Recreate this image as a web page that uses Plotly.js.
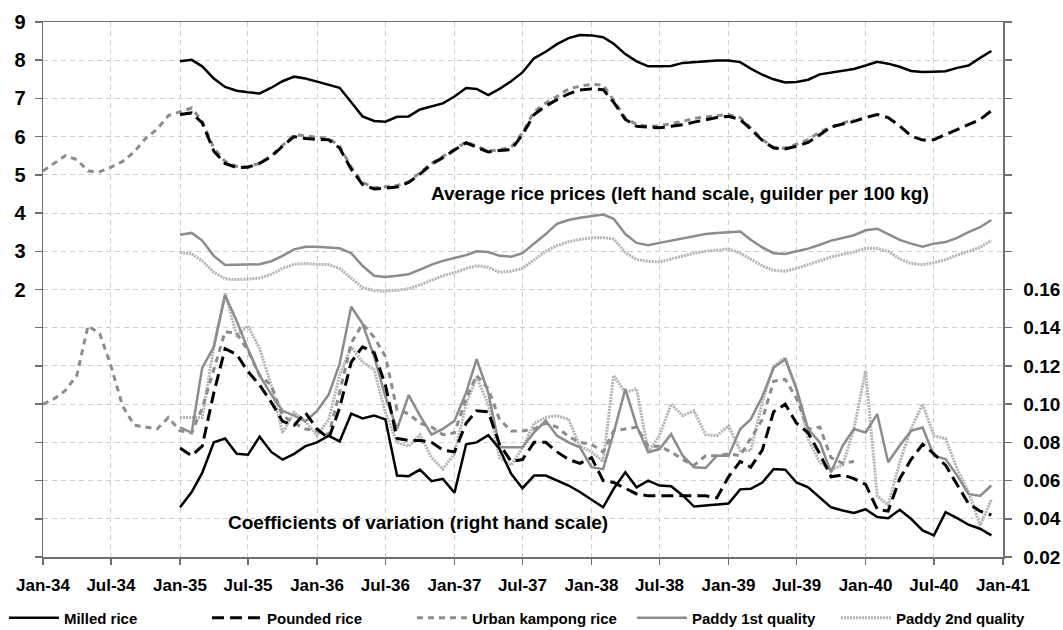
<!DOCTYPE html>
<html><head><meta charset="utf-8">
<script src="https://cdn.plot.ly/plotly-3.0.1.min.js"></script>
<style>html,body{margin:0;padding:0;background:#fff}#chart{width:1063px;height:630px}</style>
</head><body><div id="chart"></div><script>
// ---- categories ----
function monthList(y, m, n){const out=[];for(let i=0;i<n;i++){const mm=m-1+i;const yy=y+Math.floor(mm/12);const mo=mm%12+1;out.push(yy+'-'+String(mo).padStart(2,'0')+'-01');}return out;}
const months34 = monthList(1934,1,72); // Jan-34 .. Dec-39
const months35 = monthList(1935,1,72); // Jan-35 .. Dec-40
const seriesNames = ['Milled rice','Pounded rice','Urban kampong rice','Paddy 1st quality','Paddy 2nd quality'];

// ---- average prices (guilder per 100 kg, left scale) ----
const milledPrice = [7.97,8.01,7.84,7.52,7.30,7.20,7.16,7.13,7.28,7.45,7.57,7.52,
 7.44,7.35,7.28,6.90,6.53,6.41,6.39,6.52,6.53,6.71,6.80,6.87,
 7.05,7.27,7.25,7.09,7.25,7.45,7.68,8.05,8.22,8.42,8.58,8.66,
 8.65,8.60,8.43,8.16,7.97,7.84,7.84,7.85,7.93,7.95,7.97,7.99,
 7.99,7.95,7.78,7.62,7.50,7.42,7.43,7.49,7.63,7.67,7.72,7.77,
 7.86,7.96,7.91,7.83,7.72,7.69,7.70,7.71,7.80,7.86,8.06,8.24];
const poundedPrice = [6.58,6.62,6.36,5.62,5.30,5.19,5.20,5.30,5.48,5.75,6.00,5.95,
 5.93,5.92,5.70,5.15,4.75,4.63,4.65,4.68,4.80,5.02,5.28,5.45,
 5.65,5.84,5.72,5.60,5.64,5.66,6.05,6.58,6.80,6.97,7.12,7.22,
 7.25,7.23,6.90,6.45,6.27,6.25,6.23,6.27,6.31,6.38,6.45,6.50,
 6.53,6.45,6.20,5.90,5.70,5.68,5.75,5.85,6.05,6.25,6.33,6.40,
 6.50,6.58,6.50,6.28,6.02,5.91,5.92,6.05,6.18,6.30,6.45,6.68];
const urbanPrice = [5.10,5.30,5.50,5.40,5.10,5.08,5.20,5.35,5.60,5.95,6.20,6.55,
 6.65,6.75,6.40,5.70,5.35,5.22,5.22,5.30,5.50,5.78,6.05,6.02,
 5.98,5.96,5.75,5.20,4.80,4.66,4.68,4.72,4.82,5.05,5.30,5.48,
 5.68,5.86,5.75,5.62,5.66,5.72,6.10,6.65,6.88,7.05,7.25,7.32,
 7.37,7.35,6.95,6.48,6.32,6.27,6.28,6.33,6.40,6.48,6.52,6.55,
 6.58,6.50,6.22,5.92,5.72,5.70,5.80,5.92,6.12,6.25,6.35,6.45];
const paddy1Price = [3.43,3.48,3.28,2.88,2.64,2.65,2.64,2.66,2.74,2.88,3.05,3.12,
 3.12,3.10,3.08,2.95,2.62,2.36,2.33,2.36,2.40,2.52,2.65,2.75,
 2.82,2.90,3.00,2.98,2.88,2.86,2.95,3.20,3.45,3.72,3.82,3.88,
 3.92,3.96,3.85,3.45,3.22,3.16,3.22,3.28,3.33,3.40,3.45,3.48,
 3.50,3.52,3.30,3.10,2.95,2.93,3.00,3.07,3.17,3.28,3.35,3.42,
 3.55,3.59,3.45,3.30,3.20,3.12,3.20,3.24,3.35,3.50,3.63,3.82];
const paddy2Price = [2.97,2.93,2.75,2.45,2.28,2.26,2.27,2.30,2.40,2.55,2.66,2.68,
 2.66,2.65,2.55,2.30,2.05,1.97,1.96,1.98,2.02,2.12,2.24,2.36,
 2.44,2.55,2.62,2.58,2.45,2.48,2.55,2.78,3.00,3.15,3.25,3.31,
 3.35,3.36,3.32,2.97,2.78,2.74,2.72,2.80,2.88,2.95,3.00,3.03,
 3.06,2.95,2.80,2.62,2.50,2.48,2.55,2.65,2.75,2.85,2.92,2.98,
 3.08,3.07,3.00,2.80,2.68,2.65,2.70,2.78,2.90,3.00,3.10,3.28];

// ---- coefficients of variation (right scale) ----
const milledCV = [0.046,0.054,0.064,0.080,0.082,0.074,0.0735,0.083,0.075,0.071,0.074,0.078,
 0.080,0.0835,0.0805,0.095,0.0925,0.094,0.092,0.0626,0.0623,0.0657,0.0597,0.0609,
 0.0536,0.079,0.080,0.0838,0.0765,0.0635,0.056,0.0626,0.0626,0.060,0.0574,0.054,
 0.050,0.046,0.0557,0.0643,0.0565,0.060,0.0574,0.057,0.0522,0.0464,0.047,0.0473,
 0.048,0.0554,0.0557,0.059,0.066,0.0657,0.059,0.0565,0.0513,0.046,0.0443,0.043,
 0.045,0.0409,0.0403,0.0447,0.040,0.0339,0.0313,0.0435,0.0403,0.0369,0.0348,0.0313];
const poundedCV = [0.077,0.073,0.078,0.106,0.129,0.126,0.117,0.110,0.101,0.091,0.089,0.0955,
 0.087,0.082,0.098,0.122,0.130,0.127,0.110,0.082,0.081,0.081,0.080,0.076,
 0.075,0.090,0.0965,0.096,0.079,0.070,0.071,0.080,0.080,0.075,0.071,0.069,
 0.072,0.060,0.059,0.056,0.053,0.052,0.052,0.052,0.052,0.052,0.052,0.051,
 0.062,0.070,0.067,0.076,0.096,0.100,0.090,0.085,0.074,0.062,0.063,0.061,
 0.058,0.045,0.044,0.061,0.071,0.079,0.074,0.068,0.058,0.048,0.044,0.042];
const urbanCV = [0.100,0.103,0.107,0.115,0.141,0.137,0.120,0.099,0.089,0.088,0.087,0.093,
 0.086,0.085,0.098,0.118,0.138,0.137,0.128,0.115,0.110,0.094,0.090,0.087,
 0.086,0.084,0.106,0.132,0.142,0.135,0.125,0.097,0.095,0.090,0.088,0.084,
 0.085,0.103,0.115,0.108,0.092,0.086,0.086,0.087,0.090,0.088,0.083,0.080,
 0.079,0.075,0.086,0.087,0.088,0.078,0.078,0.075,0.071,0.068,0.073,0.073,
 0.074,0.073,0.082,0.092,0.112,0.113,0.103,0.087,0.088,0.072,0.069,0.070];
const paddy1CV = [0.0878,0.085,0.119,0.130,0.157,0.1435,0.1287,0.115,0.105,0.0965,0.094,0.091,
 0.0965,0.105,0.121,0.151,0.142,0.125,0.104,0.087,0.1047,0.094,0.084,0.087,
 0.0913,0.106,0.1235,0.106,0.0774,0.0774,0.0774,0.0852,0.0913,0.0835,0.080,0.0774,
 0.067,0.066,0.085,0.108,0.0887,0.0748,0.0765,0.0843,0.073,0.067,0.0666,0.073,
 0.073,0.087,0.092,0.104,0.119,0.1235,0.108,0.087,0.080,0.0643,0.0783,0.087,
 0.0852,0.0948,0.0696,0.0783,0.086,0.0878,0.073,0.0713,0.0626,0.053,0.052,0.0574];
const paddy2CV = [0.093,0.093,0.093,0.130,0.158,0.136,0.141,0.129,0.110,0.085,0.0957,0.091,
 0.0835,0.092,0.115,0.130,0.122,0.118,0.0957,0.080,0.078,0.084,0.072,0.066,
 0.074,0.100,0.114,0.100,0.072,0.068,0.077,0.090,0.093,0.094,0.092,0.078,
 0.075,0.070,0.115,0.106,0.108,0.075,0.0835,0.100,0.094,0.0965,0.084,0.0835,
 0.0887,0.0757,0.0757,0.101,0.120,0.1243,0.108,0.0817,0.0696,0.066,0.068,0.087,
 0.1174,0.052,0.047,0.0696,0.087,0.100,0.0835,0.082,0.066,0.054,0.0365,0.050];

// ---- tick labels ----
const leftTickVals = [-5,-4,-3,-2,-1,0,1,2,3,4,5,6,7,8,9];
const leftTickText = leftTickVals.map(v => v >= 2 ? String(v) : '');
const rightTickVals = [0.02,0.04,0.06,0.08,0.10,0.12,0.14,0.16,0.18,0.20,0.22,0.24,0.26,0.28,0.30];
const rightTickText = rightTickVals.map(v => v <= 0.161 ? v.toFixed(2) : '');
const annPrices = 'Average rice prices (left hand scale, guilder per 100 kg)';
const annCV = 'Coefficients of variation (right hand scale)';

// ---- styles ----
const styles = {
  'Milled rice':        {color:'#000000', width:2.5, dash:'solid',    legend:'legend',  lx:-0.0407},
  'Pounded rice':       {color:'#000000', width:3,   dash:'12px,6px', legend:'legend2', lx:0.1708},
  'Urban kampong rice': {color:'#8c8c8c', width:3,   dash:'6px,5px',  legend:'legend3', lx:0.3843},
  'Paddy 1st quality':  {color:'#8c8c8c', width:2.5, dash:'solid',    legend:'legend4', lx:0.6135},
  'Paddy 2nd quality':  {color:'#b4b4b4', width:3,   dash:'2px,1px',  legend:'legend5', lx:0.8260}
};
const priceData = {
  'Milled rice':[months35, milledPrice], 'Pounded rice':[months35, poundedPrice],
  'Urban kampong rice':[months34, urbanPrice], 'Paddy 1st quality':[months35, paddy1Price],
  'Paddy 2nd quality':[months35, paddy2Price]};
const cvData = {
  'Milled rice':[months35, milledCV], 'Pounded rice':[months35, poundedCV],
  'Urban kampong rice':[months34, urbanCV], 'Paddy 1st quality':[months35, paddy1CV],
  'Paddy 2nd quality':[months35, paddy2CV]};

const drawOrder = ['Paddy 2nd quality','Paddy 1st quality','Urban kampong rice','Pounded rice','Milled rice'];
const traces = [];
drawOrder.forEach(n => {
  const s = styles[n];
  const line = {color:s.color, width:s.width, dash:s.dash};
  traces.push({x:priceData[n][0], y:priceData[n][1], type:'scatter', mode:'lines', name:n,
    line:line, legendgroup:n, legend:s.legend, showlegend:true, yaxis:'y'});
  traces.push({x:cvData[n][0], y:cvData[n][1], type:'scatter', mode:'lines', name:n,
    line:line, legendgroup:n, showlegend:false, yaxis:'y2'});
});

const FONT = 'Liberation Sans, Arial, sans-serif';
const axisLine = '#707070';
const legendFont = {family:FONT, size:15, weight:'bold', color:'#000'};
const layout = {
  width:1063, height:630,
  margin:{l:43, r:60, t:22, b:73, autoexpand:false},
  paper_bgcolor:'#ffffff', plot_bgcolor:'#ffffff',
  font:{family:FONT, color:'#000'},
  xaxis:{type:'date', range:['1934-01-01','1941-01-01'], tick0:'1934-01-01', dtick:'M6',
    tickformat:'%b-%y', ticks:'outside', ticklen:6, tickcolor:axisLine, tickwidth:1.5, ticklabelstandoff:6,
    showline:true, linecolor:axisLine, linewidth:1.5, mirror:true,
    showgrid:true, gridcolor:'#cfcfcf', gridwidth:1, griddash:'5px,4px', zeroline:false,
    tickfont:{family:FONT, size:17, weight:'bold', color:'#000'}},
  yaxis:{range:[-5,9], tickvals:leftTickVals, ticktext:leftTickText, ticks:'outside', ticklen:7,
    tickcolor:axisLine, tickwidth:1.5, ticklabelstandoff:5, showline:true, linecolor:axisLine, linewidth:1.5,
    showgrid:true, gridcolor:'#cfcfcf', gridwidth:1, griddash:'5px,4px', zeroline:false,
    tickfont:{family:FONT, size:20, weight:'bold', color:'#000'}},
  yaxis2:{range:[0.02,0.30], overlaying:'y', side:'right', tickvals:rightTickVals, ticktext:rightTickText,
    ticks:'outside', ticklen:7, tickcolor:axisLine, tickwidth:1.5, ticklabelstandoff:8,
    showline:true, linecolor:axisLine, linewidth:1.5, showgrid:false, zeroline:false,
    tickfont:{family:FONT, size:19, weight:'bold', color:'#000'}},
  showlegend:true,
  annotations:[
    {text:annPrices, xref:'paper', yref:'paper', x:0.6635, y:0.680, xanchor:'center', yanchor:'middle',
     showarrow:false, font:{family:FONT, size:19, weight:'bold', color:'#000'}},
    {text:annCV, xref:'paper', yref:'paper', x:0.391, y:0.0654, xanchor:'center', yanchor:'middle',
     showarrow:false, font:{family:FONT, size:19, weight:'bold', color:'#000'}}
  ]
};
seriesNames.forEach(n => {
  const s = styles[n];
  layout[s.legend] = {orientation:'h', x:s.lx, xanchor:'left', y:-0.114, yanchor:'middle',
    bgcolor:'rgba(0,0,0,0)', itemwidth:50, font:legendFont};
});
Plotly.newPlot('chart', traces, layout, {displayModeBar:false, staticPlot:true});
</script></body></html>
